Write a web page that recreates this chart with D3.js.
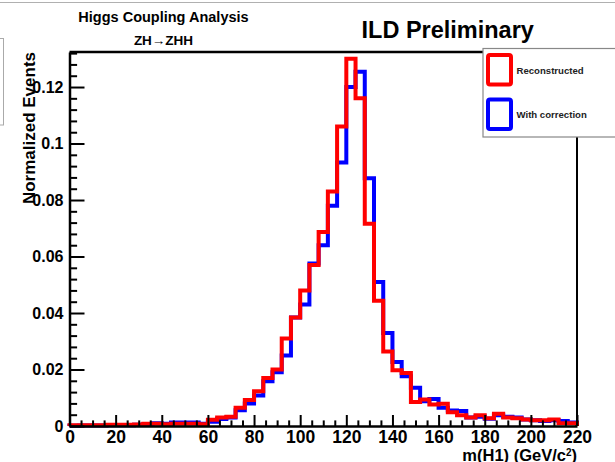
<!DOCTYPE html>
<html>
<head>
<meta charset="utf-8">
<script src="https://cdn.jsdelivr.net/npm/d3@7"></script>
<style>
  body { margin: 0; background: #fff; }
  svg { display: block; font-family: "Liberation Sans", Arial, Helvetica, sans-serif; font-weight: bold; }
</style>
</head>
<body>
<svg width="615" height="462"></svg>
<script>
// bins of 4 GeV from 0 to 220
const binWidth = 4;
const reconstructed = [
  0.0003, 0.0003, 0.0003, 0.0003, 0.0004, 0.0004, 0.0004, 0.0005, 0.0008, 0.0008,
  0.0006, 0.0008, 0.0008, 0.0008, 0.0006, 0.0022, 0.0030, 0.0033, 0.0065, 0.0092,
  0.0123, 0.0170, 0.0200, 0.0310, 0.0384, 0.0480, 0.0570, 0.0687, 0.0830, 0.1060,
  0.1300, 0.1160, 0.0716, 0.0443, 0.0264, 0.0197, 0.0188, 0.0085, 0.0094, 0.0076,
  0.0079, 0.0049, 0.0038, 0.0030, 0.0038, 0.0027, 0.0043, 0.0030, 0.0027, 0.0023,
  0.0020, 0.0020, 0.0023, 0.0010, 0.0010
];
const withCorrection = [
  0.0001, 0.0002, 0.0002, 0.0002, 0.0003, 0.0003, 0.0003, 0.0004, 0.0006, 0.0010,
  0.0008, 0.0012, 0.0012, 0.0012, 0.0008, 0.0015, 0.0025, 0.0030, 0.0056, 0.0080,
  0.0108, 0.0158, 0.0190, 0.0250, 0.0384, 0.0430, 0.0575, 0.0640, 0.0780, 0.0933,
  0.1200, 0.1254, 0.0877, 0.0510, 0.0329, 0.0227, 0.0176, 0.0135, 0.0088, 0.0096,
  0.0065, 0.0055, 0.0053, 0.0030, 0.0033, 0.0026, 0.0038, 0.0033, 0.0030, 0.0023,
  0.0020, 0.0018, 0.0020, 0.0018, 0.0012
];
const xTicks = [0, 20, 40, 60, 80, 100, 120, 140, 160, 180, 200, 220];
const yTicks = [0, 0.02, 0.04, 0.06, 0.08, 0.1, 0.12];
const legendLabels = ["Reconstructed", "With correction"];

let svg = d3.select("svg");

const padL = 69.5, padR = 577, padT = 52, padB = 426;
const x = d3.scaleLinear().domain([0, 220]).range([padL, padR]);
const y = d3.scaleLinear().domain([0, 0.1324]).range([padB, padT]);

// page decorations (top rule, clipped box on the left)
svg.append("line").attr("x1", 0).attr("x2", 615).attr("y1", 2.5).attr("y2", 2.5)
  .attr("stroke", "#b0b0b0").attr("stroke-width", 1.2);
svg.append("rect").attr("x", -10).attr("y", 38.5).attr("width", 13.5).attr("height", 86.5)
  .attr("fill", "none").attr("stroke", "#aaa").attr("stroke-width", 1);

// histograms
function stepPoints(vals) {
  const pts = [[0, 0]];
  vals.forEach((v, i) => pts.push([i * binWidth, v]));
  pts.push([vals.length * binWidth, vals[vals.length - 1]]);
  pts.push([vals.length * binWidth, 0]);
  return pts;
}
const line = d3.line().x(d => x(d[0])).y(d => y(d[1])).curve(d3.curveStepAfter);

svg.append("path").attr("d", line(stepPoints(withCorrection)))
  .attr("fill", "none").attr("stroke", "#0000ff").attr("stroke-width", 4);
svg.append("path").attr("d", line(stepPoints(reconstructed)))
  .attr("fill", "none").attr("stroke", "#ff0000").attr("stroke-width", 4);

// minor ticks
const xMinor = d3.range(0, 221, 5).filter(v => v % 20 !== 0);
const yMinor = d3.range(0, 0.1321, 0.004).filter(v => Math.abs(v / 0.02 - Math.round(v / 0.02)) > 1e-6);

svg.append("g").attr("transform", `translate(0,${padB})`)
  .call(d3.axisBottom(x).tickValues(xMinor).tickSize(-5.6).tickFormat(""))
  .call(g => g.select(".domain").remove())
  .selectAll("line").attr("stroke", "#000").attr("stroke-width", 2);
svg.append("g").attr("transform", `translate(${padL},0)`)
  .call(d3.axisLeft(y).tickValues(yMinor).tickSize(-7.6).tickFormat(""))
  .call(g => g.select(".domain").remove())
  .selectAll("line").attr("stroke", "#000").attr("stroke-width", 2);

// major ticks + labels
const xAxis = svg.append("g").attr("transform", `translate(0,${padB})`)
  .call(d3.axisBottom(x).tickValues(xTicks).tickSize(-11).tickSizeOuter(0).tickPadding(4.5).tickFormat(d3.format("d")));
xAxis.select(".domain").attr("stroke", "#000").attr("stroke-width", 2.5);
xAxis.selectAll("line").attr("stroke", "#000").attr("stroke-width", 2);
xAxis.selectAll("text").attr("font-size", 17.5).attr("font-family", null).attr("fill", "#000");

const yAxis = svg.append("g").attr("transform", `translate(${padL},0)`)
  .call(d3.axisLeft(y).tickValues(yTicks).tickSize(-15).tickSizeOuter(0).tickPadding(6).tickFormat(d => d === 0 ? "0" : String(+d.toFixed(2))));
yAxis.select(".domain").attr("stroke", "#000").attr("stroke-width", 2.5);
yAxis.selectAll("line").attr("stroke", "#000").attr("stroke-width", 2);
yAxis.selectAll("text").attr("font-size", 16).attr("font-family", null).attr("fill", "#000");

// frame top and right
svg.append("line").attr("x1", padL).attr("x2", 483).attr("y1", padT).attr("y2", padT)
  .attr("stroke", "#000").attr("stroke-width", 2.5);
svg.append("line").attr("x1", padR).attr("x2", padR).attr("y1", 137).attr("y2", padB)
  .attr("stroke", "#000").attr("stroke-width", 2);

// axis titles
svg.append("text").attr("transform", "translate(35,52) rotate(-90)")
  .attr("text-anchor", "end").attr("font-size", 17).text("Normalized Events");
const xt = svg.append("text").attr("x", padR).attr("y", 460.5)
  .attr("text-anchor", "end").attr("font-size", 16.5);
xt.append("tspan").text("m(H1) (GeV/c");
xt.append("tspan").attr("font-size", 10).attr("dy", -5).text("2");
xt.append("tspan").attr("dy", 5).text(")");

// titles
svg.append("text").attr("x", 163.5).attr("y", 21.7).attr("text-anchor", "middle")
  .attr("font-size", 14.5).text("Higgs Coupling Analysis");
svg.append("text").attr("x", 163.5).attr("y", 45).attr("text-anchor", "middle")
  .attr("font-size", 13.5).text("ZH\u2192ZHH");
svg.append("text").attr("x", 361.5).attr("y", 37.5)
  .attr("font-size", 23.5).text("ILD Preliminary");

// legend
const legend = svg.append("g");
legend.append("rect").attr("x", 483).attr("y", 48.5).attr("width", 140).attr("height", 88.5)
  .attr("fill", "#fff").attr("stroke", "#888").attr("stroke-width", 1.2);
const legendColors = ["#ff0000", "#0000ff"];
legendLabels.forEach((lab, i) => {
  const y0 = 55 + i * 44.5;
  legend.append("rect").attr("x", 488).attr("y", y0).attr("width", 23).attr("height", 29.5)
    .attr("rx", 2).attr("fill", "none").attr("stroke", legendColors[i]).attr("stroke-width", 4);
  legend.append("text").attr("x", 516.5).attr("y", y0 + 18.5)
    .attr("font-size", 9.6).attr("fill", "#222").text(lab);
});
</script>
</body>
</html>
